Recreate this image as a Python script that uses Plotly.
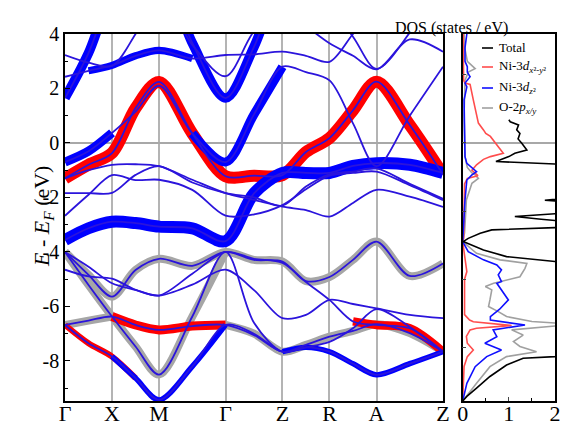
import plotly.graph_objects as go

W, H = 569, 424
FONT = "Liberation Serif"

# ---------------- k-path ----------------
K_LABELS = ["Γ", "X", "M", "Γ", "Z", "R", "A", "Z"]
K_HS = [0.0, 1.0, 2.0, 3.414, 4.624, 5.624, 6.624, 8.038]
K_GRID = [0.0, 0.5, 1.0, 1.5, 2.0, 2.707, 3.414, 4.019, 4.624, 5.124, 5.624, 6.124, 6.624, 7.331, 8.038]

# ---------------- band energies (eV) at K_GRID ----------------
BAND_U1 = [1.65, 3.3, 5.5, 6.5, 6.5, 3.67, 1.65, 3.53, 6.0, 6.5, 6.5, 6.5, 6.5, 6.5, 6.5]
BAND_U2 = [2.43, 2.65, 2.85, 3.2, 3.4, 3.1, 3.23, 3.25, 3.35, 3.2, 2.98, 4.0, 5.0, 5.5, 5.5]
BAND_U3 = [3.23, 2.95, 2.83, 4.0, 5.5, 3.6, 2.45, 4.1, 5.0, 4.3, 3.66, 3.2, 2.7, 3.8, 3.35]
BAND_U5 = [7.0, 7.0, 7.0, 7.0, 7.0, 7.0, 7.0, 7.0, 7.0, 6.0, 5.0, 3.9, 2.72, 4.05, 6.0]
BAND_D1 = [-0.7, -0.3, 0.37, 1.15, 2.1, 0.35, -0.7, 1.05, 2.8, 2.6, 2.3, 0.72, -0.85, 1.0, 2.8]
BAND_R1 = [-1.3, -0.8, -0.37, 1.28, 2.24, 0.35, -1.22, -1.2, -1.18, -0.33, 0.18, 1.2, 2.25, 0.66, -1.15]
BAND_L1 = [-3.56, -3.13, -2.89, -2.94, -3.07, -3.13, -3.6, -1.85, -1.1, -1.1, -1.1, -0.84, -0.74, -0.8, -1.1]
BAND_P = [-1.3, -1.0, -0.8, -0.78, -0.85, -1.35, -1.84, -2.09, -2.34, -2.46, -2.7, -2.2, -1.72, -1.97, -2.35]
BAND_Q = [-1.84, -1.84, -1.83, -1.17, -0.85, -1.45, -1.84, -2.0, -2.3, -1.6, -1.15, -1.05, -0.93, -1.5, -2.05]
BAND_RR = [-2.67, -1.9, -1.18, -1.36, -1.35, -1.72, -2.67, -2.62, -2.28, -1.7, -1.2, -1.1, -1.05, -1.55, -2.1]
BAND_G1 = [-4.0, -4.84, -5.64, -4.66, -4.25, -4.51, -4.0, -4.29, -4.35, -5.07, -4.92, -4.29, -3.62, -4.88, -4.42]
BAND_G2 = [-4.0, -5.21, -6.37, -7.47, -8.5, -6.37, -4.0, -6.6, -7.66, -7.5, -7.66, -8.1, -8.51, -8.1, -7.66]
BAND_B = [-6.68, -7.35, -7.84, -8.63, -9.43, -8.2, -6.68, -7.0, -7.66, -7.41, -7.11, -6.9, -6.65, -6.98, -7.66]
BAND_R2 = [-6.68, -6.52, -6.37, -6.68, -6.86, -6.72, -6.68, -7.05, -7.66, -7.5, -7.3, -6.8, -6.1, -6.75, -7.66]
BAND_T1 = [-4.0, -4.54, -5.15, -5.39, -5.6, -4.8, -4.0, -4.25, -4.4, -5.1, -5.76, -6.55, -6.68, -6.8, -7.66]
BAND_T2 = [-4.65, -4.9, -4.98, -5.39, -5.6, -5.2, -4.65, -5.4, -6.43, -6.31, -5.76, -5.91, -6.07, -6.31, -6.43]

# ---------------- orbital weights (0..1) at K_GRID ----------------
W_U1_BLUE = [0.8] * 15
W_U2_BLUE = [0, 0.6, 0.6, 0.6, 0.6, 0.6, 0, 0, 0, 0, 0, 0, 0, 0, 0]
W_D1_BLUE = [0.75, 0.75, 0.75, 0, 0, 0.75, 0.75, 0.75, 0.75, 0, 0, 0, 0, 0, 0]
W_R1_RED = [1.0] * 15
W_L1_BLUE = [1.0] * 15
W_G1_GRAY = [1.0] * 15
W_G2_GRAY = [1, 1, 1, 1, 1, 1, 1, 0, 0, 0, 0, 0, 0, 0, 0]
W_G2_BLUE = [0, 0, 0, 0, 0, 0, 0, 0, 0.45, 0.45, 0.45, 0.45, 0.45, 0.45, 0.45]
W_B_GRAY = [0, 0, 0, 0, 0, 0, 1, 1, 1, 1, 1, 1, 1, 1, 1]
W_B_BLUE = [0, 0, 0.45, 0.45, 0.45, 0.45, 0.45, 0, 0, 0, 0, 0, 0, 0, 0]
W_B_RED = [0.5, 0.5, 0.5, 0.5, 0, 0, 0, 0, 0, 0, 0, 0, 0, 0, 0]
W_R2_RED = [0, 0, 0.75, 0.75, 0.75, 0.75, 0.75, 0, 0, 0, 0, 0, 0, 0, 0]
W_R2_GRAY = [1, 1, 1, 0, 0, 0, 0, 0, 0, 0, 0, 0, 0, 0, 0]
W_T1_RED = [0, 0, 0, 0, 0, 0, 0, 0, 0, 0, 0, 0.7, 0.7, 0.7, 0.7]

# ---------------- DOS (states/eV) ----------------
DOS_TOTAL_E = [0.85, 0.78, 0.66, 0.48, 0.35, 0.15, -0.01, -0.26, -0.38, -0.5, -0.68, -0.8, -1.4, -2.0,
               -2.1, -2.17, -2.55, -2.7, -2.8, -2.9, -3.08, -3.19, -3.31, -3.5, -3.62, -3.8, -3.93,
               -4.17, -4.35, -4.6, -7.6, -7.84, -7.9, -8.15, -8.57, -9.0, -9.3, -9.47]
DOS_TOTAL = [1.0, 1.03, 1.21, 1.17, 1.24, 1.2, 1.28, 1.39, 1.13, 1.0, 0.72, 2.4, 2.6, 2.4,
             1.78, 2.4, 2.4, 1.13, 1.7, 2.4, 2.4, 0.63, 0.38, 0.12, 0.01, 0.25, 0.45,
             0.95, 2.0, 2.6, 2.6, 2.0, 1.31, 0.95, 0.59, 0.3, 0.09, 0.0]
DOS_DX2Y2_E = [4.0, 2.3, 2.2, 2.15, 1.58, 1.0, 0.73, 0.48, 0.35, 0.24, 0.0, -0.2, -0.38, -0.5, -0.6,
               -0.8, -1.0, -1.2, -1.3, -1.5, -3.5, -3.62, -4.0, -4.72, -5.0, -6.3, -6.5, -6.56,
               -6.7, -6.8, -6.86, -7.1, -7.35, -7.6, -7.84, -8.2, -9.47]
DOS_DX2Y2 = [0.01, 0.02, 0.05, 0.16, 0.23, 0.3, 0.34, 0.45, 0.5, 0.6, 0.72, 0.8, 0.88, 0.6, 0.45,
             0.3, 0.2, 0.33, 0.1, 0.04, 0.02, 0.0, 0.03, 0.09, 0.04, 0.04, 0.15, 0.23,
             1.06, 0.3, 0.16, 0.08, 0.1, 0.23, 0.1, 0.03, 0.0]
DOS_DZ2_E = [4.0, 3.5, 3.0, 2.8, 2.6, 2.43, 2.2, 2.06, 1.58, 0.5, -0.5, -0.75, -0.93, -1.05, -1.17,
             -1.36, -2.09, -3.31, -3.62, -3.99, -4.17, -4.29, -4.48, -4.66, -4.84, -5.09, -5.15,
             -5.4, -5.76, -6.1, -6.37, -6.5, -6.68, -6.86, -7.11, -7.35, -7.6, -7.84, -8.21, -8.82, -9.47]
DOS_DZ2 = [0.09, 0.05, 0.05, 0.1, 0.1, 0.16, 0.05, 0.09, 0.03, 0.04, 0.05, 0.09, 0.23, 0.3, 0.2,
           0.09, 0.05, 0.01, 0.0, 0.12, 0.34, 0.45, 0.74, 0.84, 0.77, 0.84, 0.74,
           0.85, 0.99, 0.8, 0.6, 0.6, 1.35, 0.66, 0.74, 0.48, 0.84, 0.52, 0.27, 0.09, 0.0]
DOS_O2P_E = [4.0, 3.44, 3.0, 2.73, 2.6, 2.3, 1.0, -0.5, -0.9, -1.1, -1.17, -1.3, -1.48, -2.09, -3.3,
             -3.62, -4.05, -4.29, -4.42, -4.6, -4.91, -5.15, -5.27, -5.39, -5.76, -6.0, -6.19, -6.37,
             -6.55, -6.62, -6.7, -6.86, -7.05, -7.29, -7.47, -7.66, -7.84, -8.21, -8.82, -9.47]
DOS_O2P = [0.03, 0.05, 0.1, 0.27, 0.12, 0.05, 0.03, 0.05, 0.1, 0.2, 0.27, 0.34, 0.2, 0.08, 0.04,
           0.0, 0.3, 0.81, 1.39, 1.35, 1.24, 0.67, 0.49, 0.63, 0.59, 0.56, 0.77, 0.95,
           1.5, 2.1, 2.1, 1.06, 1.31, 1.1, 1.24, 1.6, 0.95, 0.59, 0.3, 0.0]

Y_TICKS = [-8, -6, -4, -2, 0, 2, 4]
Y_TICK_TEXT = ["-8", "-6", "-4", "-2", "0", "2", "4"]
DOS_TICKS = [0, 1, 2]
E_RANGE = [-9.47, 4.0]

# ---------------- styling ----------------
COL_THIN = "#2b14dc"
COL = {"gray": "#a6a6a6", "red": "#ff0000", "blue": "#0000ff"}
MAXW = {"gray": 8, "red": 12, "blue": 12}

BANDS = [
    (BAND_U1, {"blue": W_U1_BLUE}),
    (BAND_U2, {"blue": W_U2_BLUE}),
    (BAND_U3, {}),
    (BAND_U5, {}),
    (BAND_D1, {"blue": W_D1_BLUE}),
    (BAND_R1, {"red": W_R1_RED}),
    (BAND_L1, {"blue": W_L1_BLUE}),
    (BAND_P, {}),
    (BAND_Q, {}),
    (BAND_RR, {}),
    (BAND_G1, {"gray": W_G1_GRAY}),
    (BAND_G2, {"gray": W_G2_GRAY, "blue": W_G2_BLUE}),
    (BAND_B, {"gray": W_B_GRAY, "blue": W_B_BLUE, "red": W_B_RED}),
    (BAND_R2, {"red": W_R2_RED, "gray": W_R2_GRAY}),
    (BAND_T1, {"red": W_T1_RED}),
    (BAND_T2, {}),
]


def runs(w):
    out, cur = [], []
    for i, v in enumerate(w):
        if v > 0:
            cur.append(i)
        else:
            if len(cur) >= 2:
                out.append(cur)
            cur = []
    if len(cur) >= 2:
        out.append(cur)
    return out


fig = go.Figure()

# fat bands: gray, red, blue
for orb in ["gray", "red", "blue"]:
    for energies, weights in BANDS:
        if orb not in weights:
            continue
        w = weights[orb]
        for r in runs(w):
            fig.add_trace(go.Scatter(
                x=[K_GRID[i] for i in r], y=[energies[i] for i in r],
                mode="lines",
                line=dict(color=COL[orb], width=max(w[i] for i in r) * MAXW[orb],
                          shape="spline", smoothing=0.9),
                hoverinfo="skip", showlegend=False, xaxis="x", yaxis="y"))

# thin band lines
for energies, _ in BANDS:
    fig.add_trace(go.Scatter(x=K_GRID, y=energies, mode="lines",
                             line=dict(color=COL_THIN, width=1.8, shape="spline", smoothing=0.9),
                             hoverinfo="skip", showlegend=False, xaxis="x", yaxis="y"))

# DOS
for xs, ys, c in [(DOS_O2P, DOS_O2P_E, "#a0a0a0"), (DOS_DX2Y2, DOS_DX2Y2_E, "#ff4d4d"),
                  (DOS_DZ2, DOS_DZ2_E, "#1010ff"), (DOS_TOTAL, DOS_TOTAL_E, "#000000")]:
    fig.add_trace(go.Scatter(x=xs, y=ys, mode="lines", line=dict(color=c, width=1.6),
                             hoverinfo="skip", showlegend=False, xaxis="x2", yaxis="y2"))

L0, L1 = 65 / W, 443 / W
R0, R1 = 462.7 / W, 555 / W
B0, T0 = 1 - 401 / H, 1 - 34 / H

axis_common = dict(showline=True, linecolor="black", linewidth=1.5, mirror=True, automargin=False)

fig.update_layout(
    width=W, height=H, margin=dict(l=0, r=0, t=0, b=0, autoexpand=False),
    paper_bgcolor="white", plot_bgcolor="white",
    font=dict(family=FONT, color="black"),
    xaxis=dict(domain=[L0, L1], range=[K_HS[0], K_HS[-1]], tickvals=K_HS, ticktext=K_LABELS,
               showgrid=True, gridcolor="#b4b4b4", gridwidth=1.5, zeroline=False, ticks="",
               ticklabelstandoff=-8,
               tickfont=dict(size=22, family=FONT), **axis_common),
    yaxis=dict(domain=[B0, T0], range=E_RANGE, tickvals=Y_TICKS, ticktext=Y_TICK_TEXT,
               showgrid=False, zeroline=True, zerolinecolor="#a8a8a8", zerolinewidth=1.5,
               ticks="inside", ticklen=5, tickcolor="black",
               minor=dict(ticks="inside", dtick=1, ticklen=3, tickcolor="black"),
               tickfont=dict(size=20, family=FONT), **axis_common),
    xaxis2=dict(domain=[R0, R1], range=[0, 2], tickvals=DOS_TICKS, ticktext=[str(t) for t in DOS_TICKS],
                anchor="y2", showgrid=False, zeroline=False, ticks="inside", ticklen=4,
                ticklabelstandoff=-8,
                minor=dict(ticks="inside", dtick=0.5, ticklen=3, tickcolor="black"),
                tickfont=dict(size=22, family=FONT), **axis_common),
    yaxis2=dict(domain=[B0, T0], range=E_RANGE, anchor="x2", showticklabels=False,
                showgrid=False, zeroline=True, zerolinecolor="#a8a8a8", zerolinewidth=1.5,
                ticks="inside", dtick=2.5, tick0=0, ticklen=4, **axis_common),
)

ann = [
    dict(x=27 / W, y=1 - 217 / H, xref="paper", yref="paper", textangle=-90,
         text="<i>E</i> - <i>E</i><sub><i>F</i></sub> (eV)", showarrow=False,
         font=dict(size=22, family=FONT)),
    dict(x=510 / W, y=1 - 17 / H, xref="paper", yref="paper", text="DOS (states / eV)",
         showarrow=False, font=dict(size=16, family=FONT)),
]
LEG = [("Total", "#000000", 47),
       ("Ni-3<i>d</i><sub><i>x</i>²<i>-y</i>²</sub>", "#ff4d4d", 66),
       ("Ni-3<i>d</i><sub><i>z</i>²</sub>", "#1010ff", 87),
       ("O-2<i>p</i><sub><i>x/y</i></sub>", "#a0a0a0", 107)]
shapes = []
for txt, c, py in LEG:
    ann.append(dict(x=497 / W, y=1 - py / H, xref="paper", yref="paper", text=txt, showarrow=False,
                    xanchor="left", yanchor="middle", font=dict(size=13, family=FONT)))
    shapes.append(dict(type="line", xref="paper", yref="paper", x0=482 / W, x1=493 / W,
                       y0=1 - (py + 1) / H, y1=1 - (py + 1) / H, line=dict(color=c, width=1.6)))
fig.update_layout(annotations=ann, shapes=shapes)

fig.write_html("out.html", config={"displayModeBar": False},
               post_script="document.body.style.margin='0px';document.body.style.overflow='hidden';")
